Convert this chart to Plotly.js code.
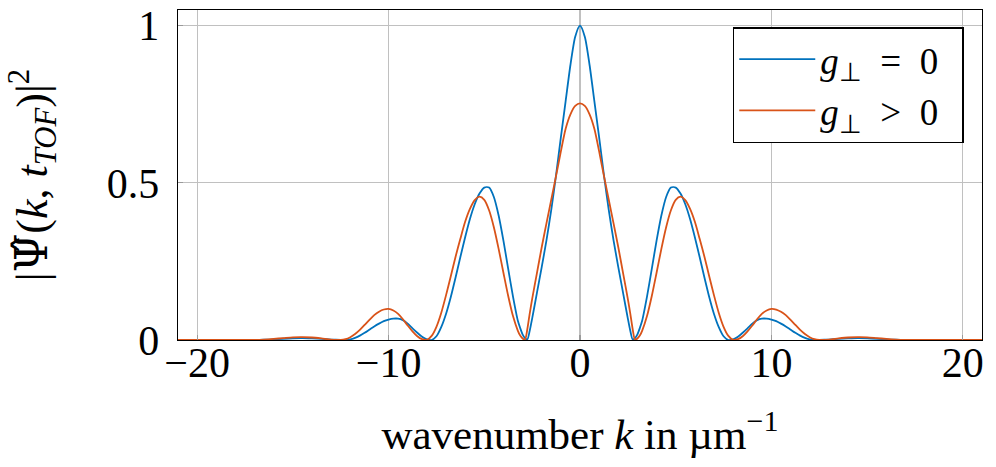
<!DOCTYPE html>
<html>
<head>
<meta charset="utf-8">
<script src="https://cdn.plot.ly/plotly-3.0.1.min.js"></script>
<style>html,body{margin:0;padding:0;background:#fff;}#chart{width:996px;height:467px;}</style>
</head>
<body>
<div id="chart"></div>
<script>
// wavenumber samples (µm^-1)
const k = [-21,-20,-19,-18,-17.5,-17,-16.5,-16,-15.5,-15,-14.5,-14,-13.5,-13,
-12.5,-12.25,-12,-11.75,-11.5,-11.25,-11,-10.75,-10.5,-10.25,-10,-9.75,-9.5,-9.25,-9,-8.75,-8.5,-8.25,
-8,-7.75,-7.5,-7.25,-7,-6.75,-6.5,-6.25,-6,-5.75,-5.5,-5.25,-5,-4.75,-4.5,-4.25,-4,-3.75,-3.5,-3.25,
-3.125,-3,-2.875,-2.75,-2.625,
-2.5,-2.25,-2,-1.75,-1.5,-1.25,-1,-0.75,-0.5,-0.25,
0,
0.25,0.5,0.75,1,1.25,1.5,1.75,2,2.25,2.5,
2.625,2.75,2.875,3,3.125,
3.25,3.5,3.75,4,4.25,4.5,4.75,5,5.25,5.5,5.75,6,6.25,6.5,6.75,7,7.25,7.5,7.75,8,
8.25,8.5,8.75,9,9.25,9.5,9.75,10,10.25,10.5,10.75,11,11.25,11.5,11.75,12,12.25,12.5,
13,13.5,14,14.5,15,15.5,16,16.5,17,17.5,18,19,20,21];

// |Psi|^2 for g_perp = 0
const psiG0 = [0,0,0,0,0,0.0002,0.0008,0.002,0.004,0.0055,0.006,0.005,0.0035,0.0015,
0.0002,0,0.002,0.007,0.014,0.023,0.033,0.043,0.052,0.060,0.065,0.068,0.068,0.063,0.052,0.037,0.023,0.010,
0.002,0,0.012,0.041,0.083,0.137,0.199,0.264,0.327,0.385,0.432,0.466,0.485,0.485,0.455,0.396,0.316,0.226,0.138,0.062,
0.038,0.018,0.006,0.002,0.03,
0.068,0.15,0.232,0.318,0.415,0.525,0.645,0.76,0.875,0.965,
1.0,
0.965,0.875,0.76,0.645,0.525,0.415,0.318,0.232,0.15,0.068,
0.03,0.002,0.006,0.018,0.038,
0.062,0.138,0.226,0.316,0.396,0.455,0.485,0.485,0.466,0.432,0.385,0.327,0.264,0.199,0.137,0.083,0.041,0.012,0,0.002,
0.010,0.023,0.037,0.052,0.063,0.068,0.068,0.065,0.060,0.052,0.043,0.033,0.023,0.014,0.007,0.002,0,0.0002,
0.0015,0.0035,0.005,0.006,0.0055,0.004,0.002,0.0008,0.0002,0,0,0,0,0];

// |Psi|^2 for g_perp > 0
const psiGpos = [0,0,0,0,0.0001,0.0005,0.0015,0.0035,0.006,0.0085,0.009,0.008,0.005,0.0015,
0,0.0025,0.009,0.019,0.032,0.048,0.064,0.079,0.090,0.097,0.099,0.094,0.083,0.066,0.046,0.0275,0.012,0.0025,
0.0005,0.013,0.042,0.086,0.142,0.203,0.265,0.322,0.376,0.417,0.445,0.456,0.446,0.413,0.359,0.290,0.214,0.140,0.076,0.03,
0.014,0.005,0.001,0.035,0.085,
0.13,0.213,0.295,0.372,0.447,0.522,0.60,0.672,0.718,0.745,
0.753,
0.745,0.718,0.672,0.60,0.522,0.447,0.372,0.295,0.213,0.13,
0.085,0.035,0.001,0.005,0.014,
0.03,0.076,0.140,0.214,0.290,0.359,0.413,0.446,0.456,0.445,0.417,0.376,0.322,0.265,0.203,0.142,0.086,0.042,0.013,0.0005,
0.0025,0.012,0.0275,0.046,0.066,0.083,0.094,0.099,0.097,0.090,0.079,0.064,0.048,0.032,0.019,0.009,0.0025,0,
0.0015,0.005,0.008,0.009,0.0085,0.006,0.0035,0.0015,0.0005,0.0001,0,0,0,0];

const xTicks = [-20,-10,0,10,20];
const yTicks = [0,0.5,1];
const yTickText = ['0','0.5','1'];
const NB = '\u00A0';
const seriesNames = ['<i>g</i><sub>⊥</sub>'+NB+NB+'='+NB+NB+'0'+NB+NB, '<i>g</i><sub>⊥</sub>'+NB+NB+'>'+NB+NB+'0'+NB+NB];

const FONT = 'Liberation Serif, Times New Roman, serif';

const traces = [
  {x:k, y:psiG0, type:'scatter', mode:'lines', name:seriesNames[0],
   line:{color:'#0072BD', width:1.8, shape:'spline', smoothing:0.7}},
  {x:k, y:psiGpos, type:'scatter', mode:'lines', name:seriesNames[1],
   line:{color:'#D95319', width:1.8, shape:'spline', smoothing:0.7}}
];

const layout = {
  width:996, height:467,
  margin:{l:178, r:14, t:10, b:127},
  paper_bgcolor:'#fff', plot_bgcolor:'#fff',
  font:{family:FONT, color:'#000', size:40},
  showlegend:true,
  legend:{x:0.69, y:0.948, xanchor:'left', yanchor:'top',
    bgcolor:'#fff', bordercolor:'#000', borderwidth:1.5,
    font:{family:FONT, size:37, color:'#000'}, itemwidth:76,
    tracegroupgap:0},
  xaxis:{range:[-21,21], tickvals:xTicks, showgrid:true, gridcolor:'#c0c0c0', gridwidth:1.2,
    zeroline:false, showline:true, linecolor:'#000', linewidth:1.3, mirror:true,
    ticks:'inside', ticklen:5, tickcolor:'#9a9a9a', tickwidth:1.2,
    tickfont:{family:FONT, size:42}, ticklabelstandoff:-15,
    title:{text:'wavenumber <i>k</i> in µm<sup>−1</sup>', font:{family:FONT, size:43}, standoff:34}},
  yaxis:{range:[0,1.05], tickvals:yTicks, ticktext:yTickText, showgrid:true, gridcolor:'#c0c0c0', gridwidth:1.2,
    zeroline:false, showline:true, linecolor:'#000', linewidth:1.3, mirror:true,
    ticks:'inside', ticklen:5, tickcolor:'#9a9a9a', tickwidth:1.2,
    tickfont:{family:FONT, size:42}, ticklabelstandoff:9,
    title:{text:'|<span style="font-family:DejaVu Serif">Ψ̂</span>(<i>k</i>, <i>t</i><sub><i>TOF</i></sub>)|<sup>2</sup>', font:{family:FONT, size:44}, standoff:45}}
};

Plotly.newPlot('chart', traces, layout, {displayModeBar:false, staticPlot:true});
</script>
</body>
</html>
